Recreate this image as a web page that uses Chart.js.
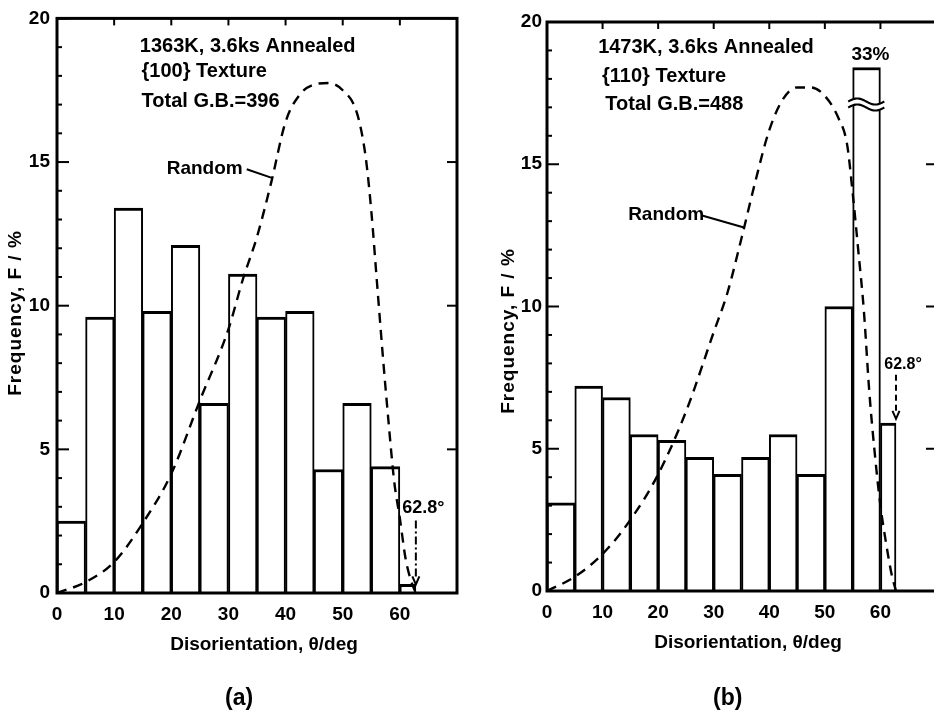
<!DOCTYPE html>
<html><head><meta charset="utf-8">
<script src="https://cdn.jsdelivr.net/npm/chart.js@4.4.1/dist/chart.umd.min.js"></script>
<style>
html,body{margin:0;padding:0;background:#fff;width:934px;height:722px;overflow:hidden;position:relative}
canvas{position:absolute;top:0}
#cA{left:0}
#cB{left:467px}
.lbl{position:absolute;font:bold 23px "Liberation Sans",sans-serif;color:#000;line-height:1}
</style></head><body>
<canvas id="cA" width="467" height="722"></canvas>
<canvas id="cB" width="480" height="722"></canvas>
<div class="lbl" style="left:225px;top:686px">(a)</div>
<div class="lbl" style="left:713px;top:686px">(b)</div>
<script>
// ---------- data ----------
const binStarts = [0, 5, 10, 15, 20, 25, 30, 35, 40, 45, 50, 55];
const binWidth = 5;
const lastBinStart = 60;
const lastBinEnd = 62.8;               // maximum disorientation 62.8°
const xTickValues = [0, 10, 20, 30, 40, 50, 60];
const yTickValues = [0, 5, 10, 15, 20];

// (a) 1363K, 3.6ks, {100} texture, total G.B. = 396
const freqA = [2.5, 9.6, 13.4, 9.8, 12.1, 6.6, 11.1, 9.6, 9.8, 4.3, 6.6, 4.4];
const lastFreqA = 0.3;
// (b) 1473K, 3.6ks, {110} texture, total G.B. = 488
const freqB = [3.1, 7.2, 6.8, 5.5, 5.3, 4.7, 4.1, 4.7, 5.5, 4.1, 10.0, 18.4]; // 55-60 bin is 33% (axis broken)
const lastFreqB = 5.9;
const brokenLabelB = '33%';

// Random (Mackenzie) distribution
const randomDeg = [0, 5, 10, 15, 20, 25, 30, 32.5, 35, 37.5, 40, 42.5, 45, 47.5, 50, 52.5, 54, 55, 56, 57, 58, 59, 60, 61, 62, 62.8];
const randomA  = [0, 0.38, 1.08, 2.43, 4.15, 6.7, 9.18, 10.9, 12.4, 14.3, 16.4, 17.35, 17.7, 17.75, 17.5, 16.7, 15.2, 13.3, 10.8, 8.3, 6.0, 3.9, 2.6, 1.2, 0.4, 0];
const randomB  = [0, 0.5, 1.3, 2.5, 4.1, 6.3, 9.1, 10.5, 12.4, 14.4, 16.2, 17.3, 17.7, 17.7, 17.4, 16.6, 15.7, 14.0, 12.0, 9.9, 7.0, 4.8, 3.0, 1.7, 0.6, 0];

const FONT = '"Liberation Sans", Arial, sans-serif';

function makeChart(id, cfg) {
  const annot = {
    id: 'annot',
    afterDatasetsDraw(chart) {
      const c = chart.ctx, X = chart.scales.x, Y = chart.scales.y, a = chart.chartArea;
      const px = v => X.getPixelForValue(v), py = v => Y.getPixelForValue(v);
      c.save();
      // broken bar mark
      if (cfg.brk) {
        const x0 = px(cfg.brk.x0), x1 = px(cfg.brk.x1), yc = py(cfg.brk.y);
        const wave = (off) => {
          c.beginPath();
          for (let i = 0; i <= 30; i++) {
            const t = i / 30;
            const x = x0 + (x1 - x0) * t;
            const y = yc + off - 3 * Math.sin(t * Math.PI * 2);
            if (i === 0) c.moveTo(x, y); else c.lineTo(x, y);
          }
        };
        c.beginPath();
        for (let i = 0; i <= 30; i++) { const t=i/30; c.lineTo(x0+(x1-x0)*t, yc-3-3*Math.sin(t*Math.PI*2)); }
        for (let i = 30; i >= 0; i--) { const t=i/30; c.lineTo(x0+(x1-x0)*t, yc+3-3*Math.sin(t*Math.PI*2)); }
        c.closePath(); c.fillStyle = '#fff'; c.fill();
        c.strokeStyle = '#000'; c.lineWidth = 2.2;
        wave(-3); c.stroke();
        wave(3); c.stroke();
      }
      // frame
      c.strokeStyle = '#000';
      c.lineWidth = 3;
      c.setLineDash([]);
      c.strokeRect(a.left, a.top, a.right - a.left, a.bottom - a.top);
      // tick marks
      c.lineWidth = 2;
      for (let v = Y.min; v <= Y.max; v += 1) {
        const y = py(v), major = v % 5 === 0;
        c.beginPath(); c.moveTo(a.left, y); c.lineTo(a.left + (major ? 12 : 5), y); c.stroke();
        if (major) { c.beginPath(); c.moveTo(a.right, y); c.lineTo(a.right - 10, y); c.stroke(); }
      }
      for (let v = 10; v < X.max; v += 10) {
        const x = px(v);
        c.beginPath(); c.moveTo(x, a.top); c.lineTo(x, a.top + 7); c.stroke();
      }
      // texts
      c.fillStyle = '#000';
      c.textBaseline = 'alphabetic';
      cfg.texts.forEach(t => {
        c.font = 'bold ' + t.size + 'px ' + FONT;
        c.textAlign = t.align || 'left';
        c.fillText(t.t, px(t.x), py(t.y));
      });
      // Random leader line
      c.lineWidth = 2;
      c.beginPath();
      c.moveTo(px(cfg.leader[0]), py(cfg.leader[1]));
      c.lineTo(px(cfg.leader[2]), py(cfg.leader[3]));
      c.stroke();
      // 62.8 arrow
      const ax = px(lastBinEnd), ay0 = py(cfg.arrow[0]), ay1 = py(cfg.arrow[1]);
      c.setLineDash(cfg.arrowDash);
      c.beginPath(); c.moveTo(ax, ay0); c.lineTo(ax, ay1 - 5); c.stroke();
      c.setLineDash([]);
      c.beginPath(); c.moveTo(ax - 3.5, ay1 - 8); c.lineTo(ax, ay1); c.lineTo(ax + 3.5, ay1 - 8); c.stroke();
      // axis titles
      c.font = 'bold 19px ' + FONT;
      c.textAlign = 'center';
      c.fillText('Disorientation, θ/deg', cfg.xTitle[0], cfg.xTitle[1]);
      c.save();
      c.translate(cfg.yTitle[0], cfg.yTitle[1]);
      c.rotate(-Math.PI / 2);
      c.font = 'bold 19px ' + FONT;
      c.textBaseline = 'middle';
      try { c.letterSpacing = '1px'; } catch (e) {}
      c.fillText('Frequency, F / %', 0, 0);
      c.restore();
      c.restore();
    }
  };
  const barBorder = {left: 2, top: 3, right: 2, bottom: 0};
  return new Chart(document.getElementById(id), {
    type: 'bar',
    data: {
      datasets: [
        {
          type: 'line',
          data: randomDeg.map((d, i) => ({x: d, y: cfg.random[i]})),
          borderColor: '#000', borderWidth: 2.4, borderDash: [10, 7],
          pointRadius: 0, cubicInterpolationMode: 'monotone', fill: false,
          order: 0, xAxisID: 'x', yAxisID: 'y'
        },
        {
          type: 'bar',
          data: binStarts.map((s, i) => ({x: s + binWidth / 2, y: cfg.freq[i]})),
          backgroundColor: '#fff', borderColor: '#000',
          borderWidth: barBorder, borderSkipped: 'bottom',
          barPercentage: 1, categoryPercentage: 1, grouped: false,
          order: 1, xAxisID: 'x', yAxisID: 'y'
        },
        {
          type: 'bar',
          data: [{x: (lastBinStart + lastBinEnd) / 2, y: cfg.lastFreq}],
          backgroundColor: '#fff', borderColor: '#000',
          borderWidth: barBorder, borderSkipped: 'bottom',
          barPercentage: 1, categoryPercentage: 1, grouped: false,
          order: 2, xAxisID: 'x2', yAxisID: 'y'
        }
      ]
    },
    options: {
      responsive: false, animation: false, devicePixelRatio: 1,
      layout: {padding: {top: cfg.padTop, right: cfg.padRight, left: 0, bottom: 0}},
      plugins: {legend: {display: false}, tooltip: {enabled: false}},
      scales: {
        x: {
          type: 'linear', min: 0, max: 70, offset: false,
          afterBuildTicks: s => { s.ticks = xTickValues.map(v => ({value: v})); },
          afterFit: s => { s.height = cfg.xHeight; },
          grid: {display: false, drawTicks: false, tickLength: 0, offset: false},
          border: {display: false},
          ticks: {color: '#000', padding: cfg.xPad, maxRotation: 0, autoSkip: false,
                  font: {family: FONT, size: 19, weight: 'bold'}}
        },
        x2: {
          type: 'linear', min: 0, max: 70, offset: false, display: false,
          afterBuildTicks: s => { s.ticks = [{value: lastBinStart}, {value: lastBinEnd}]; }
        },
        y: {
          type: 'linear', min: 0, max: 20,
          afterBuildTicks: s => { s.ticks = yTickValues.map(v => ({value: v})); },
          afterFit: s => { s.width = cfg.yWidth; },
          grid: {display: false, drawTicks: false, tickLength: 0},
          border: {display: false},
          ticks: {color: '#000', padding: cfg.yPad, autoSkip: false,
                  font: {family: FONT, size: 19, weight: 'bold'}}
        }
      }
    },
    plugins: [annot]
  });
}

makeChart('cA', {
  freq: freqA, lastFreq: lastFreqA, random: randomA,
  padTop: 16, padRight: 10, xHeight: 129, yWidth: 57, xPad: 10, yPad: 7,
  texts: [
    {t: '1363K, 3.6ks Annealed', x: 14.5, y: 18.84, size: 20},
    {t: '{100} Texture', x: 14.8, y: 17.95, size: 20},
    {t: 'Total G.B.=396', x: 14.8, y: 16.93, size: 20},
    {t: 'Random', x: 19.2, y: 14.57, size: 19},
    {t: '62.8°', x: 60.4, y: 2.8, size: 18}
  ],
  leader: [33.2, 14.75, 37.6, 14.45],
  arrow: [2.52, 0.3], arrowDash: [8, 3, 2, 3],
  xTitle: [264, 650], yTitle: [16, 313]
});

makeChart('cB', {
  freq: freqB, lastFreq: lastFreqB, random: randomB,
  padTop: 22, padRight: 11, xHeight: 131, yWidth: 80, xPad: 10, yPad: 5,
  texts: [
    {t: '1473K, 3.6ks Annealed', x: 9.2, y: 18.9, size: 20},
    {t: '{110} Texture', x: 9.9, y: 17.9, size: 20},
    {t: 'Total G.B.=488', x: 10.5, y: 16.9, size: 20},
    {t: brokenLabelB, x: 58.2, y: 18.65, size: 19, align: 'center'},
    {t: 'Random', x: 14.6, y: 13.03, size: 19},
    {t: '62.8°', x: 60.7, y: 7.8, size: 16}
  ],
  leader: [27.9, 13.2, 35.6, 12.77],
  arrow: [7.6, 6.05], arrowDash: [6, 4],
  brk: {x0: 54.2, x1: 60.7, y: 17.1},
  xTitle: [281, 648], yTitle: [42, 331]
});
</script>
</body></html>
